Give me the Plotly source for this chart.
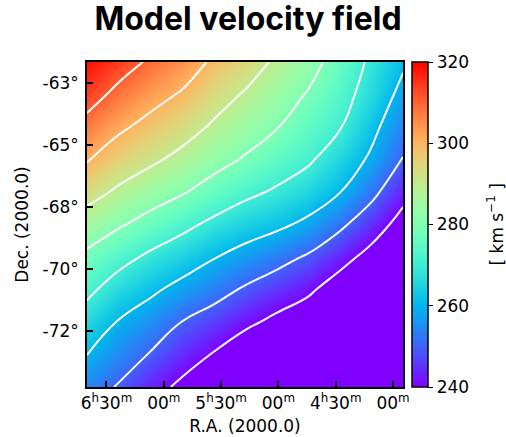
import numpy as np
import plotly.graph_objects as go

# Grid of model velocities (km/s)
ra_hours = [6.670, 6.394, 6.118, 5.843, 5.567, 5.291, 5.016, 4.740, 4.464, 4.188, 3.913]
dec_deg = [-61.997, -63.253, -64.508, -65.763, -67.019, -68.274, -69.530, -70.785, -72.040, -73.295, -74.550]

# columns (one per RA node, left -> right), values from top (dec -62) to bottom (dec -74.5)
col_0 = [319.0, 313.7, 307.2, 300.7, 293.4, 285.6, 278.1, 272.0, 266.0, 260.1, 254.2]
col_1 = [313.9, 307.7, 301.5, 295.2, 288.6, 281.0, 273.0, 265.9, 259.5, 254.5, 249.3]
col_2 = [308.8, 303.1, 297.4, 291.6, 284.6, 276.6, 268.4, 261.6, 255.5, 249.5, 243.4]
col_3 = [304.7, 299.2, 293.6, 287.7, 280.8, 272.3, 264.7, 257.4, 249.9, 244.2, 238.2]
col_4 = [298.7, 293.9, 288.9, 283.2, 276.3, 268.0, 260.5, 253.2, 246.3, 239.5, 233.0]
col_5 = [294.6, 289.2, 284.4, 279.2, 272.0, 264.5, 256.8, 249.0, 241.8, 234.6, 228.0]
col_6 = [288.5, 284.4, 280.4, 274.8, 268.9, 261.8, 253.1, 245.2, 238.0, 231.0, 224.0]
col_7 = [283.6, 279.3, 275.3, 271.2, 265.3, 258.1, 249.0, 241.6, 234.2, 227.0, 220.0]
col_8 = [275.9, 273.3, 270.5, 265.3, 260.2, 251.7, 243.4, 235.3, 227.0, 219.0, 211.0]
col_9 = [268.4, 266.3, 262.3, 258.6, 252.4, 244.7, 236.9, 229.0, 221.0, 213.0, 205.0]
col_10 = [261.3, 257.4, 253.6, 249.7, 243.0, 236.5, 230.0, 223.0, 217.0, 210.0, 203.0]

contour_levels = [240, 250, 260, 270, 280, 290, 300, 310]
cbar_ticks = [240, 260, 280, 300, 320]

ra_tickvals = [6.5, 6.0, 5.5, 5.0, 4.5, 4.0]
ra_ticktext = ["6<sup>h</sup>30<sup>m</sup>", "00<sup>m</sup>", "5<sup>h</sup>30<sup>m</sup>",
               "00<sup>m</sup>", "4<sup>h</sup>30<sup>m</sup>", "00<sup>m</sup>"]
dec_tickvals = [-62.8, -65.2, -67.6, -70.0, -72.4]
dec_ticktext = ["-63°", "-65°", "-68°", "-70°", "-72°"]

cols = [col_0, col_1, col_2, col_3, col_4, col_5, col_6, col_7, col_8, col_9, col_10]
z = np.array(cols).T  # rows top->bottom
z = z[::-1]           # rows bottom->top
dec_sorted = dec_deg[::-1]

# matplotlib 'rainbow' colormap
s = np.linspace(0, 1, 41)
r = np.clip(np.abs(2 * s - 0.5), 0, 1)
g = np.clip(np.sin(np.pi * s), 0, 1)
b = np.clip(np.cos(np.pi * s / 2), 0, 1)
rainbow = [[float(v), f"rgb({int(round(rr*255))},{int(round(gg*255))},{int(round(bb*255))})"]
           for v, rr, gg, bb in zip(s, r, g, b)]

font_ax = "DejaVu Sans"
FS = 17

fig = go.Figure()
fig.add_trace(go.Heatmap(
    x=ra_hours, y=dec_sorted, z=z, zmin=240, zmax=320, zsmooth="best",
    colorscale=rainbow,
    colorbar=dict(
        x=1.0285, xanchor="left", xpad=0, y=0.5, yanchor="middle", len=1.0, lenmode="fraction",
        ypad=0, thickness=16, outlinecolor="black", outlinewidth=1.5,
        tickvals=cbar_ticks, ticks="outside", ticklen=5, tickwidth=1.2, tickcolor="black",
        tickfont=dict(family=font_ax, size=FS, color="black"),
    ),
    hoverinfo="skip",
))
fig.add_trace(go.Contour(
    x=ra_hours, y=dec_sorted, z=z,
    contours=dict(start=contour_levels[0], end=contour_levels[-1], size=10, coloring="none"),
    line=dict(color="white", width=2, smoothing=1.3),
    showscale=False, hoverinfo="skip",
))

fig.add_annotation(
    text="[ km s<sup>−1</sup> ]", textangle=-90,
    xref="paper", yref="paper", x=(495 - 87) / 316, y=0.5,
    xanchor="center", yanchor="middle", showarrow=False,
    font=dict(family=font_ax, size=FS, color="black"),
)

fig.update_layout(
    width=506, height=437,
    margin=dict(l=87, r=103, t=62, b=50, autoexpand=False),
    paper_bgcolor="white", plot_bgcolor="white",
    title=dict(text="<b>Model velocity field</b>", x=(248) / 506, xanchor="center",
               y=1 - 8 / 437, yanchor="top", yref="container",
               font=dict(family="Inter", size=32, color="black")),
    xaxis=dict(range=[6.670, 3.913], showgrid=False, zeroline=False, automargin=False,
               showline=True, linecolor="black", linewidth=1.5, mirror=True,
               ticks="inside", ticklen=6, tickwidth=1.5, tickcolor="black",
               tickvals=ra_tickvals, ticktext=ra_ticktext,
               tickfont=dict(family=font_ax, size=FS, color="black"),
               title=dict(text="R.A. (2000.0)", standoff=8,
                          font=dict(family=font_ax, size=FS, color="black"))),
    yaxis=dict(range=[-74.55, -61.997], showgrid=False, zeroline=False, automargin=False,
               showline=True, linecolor="black", linewidth=1.5, mirror=True,
               ticks="inside", ticklen=6, tickwidth=1.5, tickcolor="black",
               ticklabelstandoff=3,
               tickvals=dec_tickvals, ticktext=dec_ticktext,
               tickfont=dict(family=font_ax, size=FS, color="black"),
               title=dict(text="Dec. (2000.0)", standoff=10,
                          font=dict(family=font_ax, size=FS, color="black"))),
)

fig.write_html("out.html")
